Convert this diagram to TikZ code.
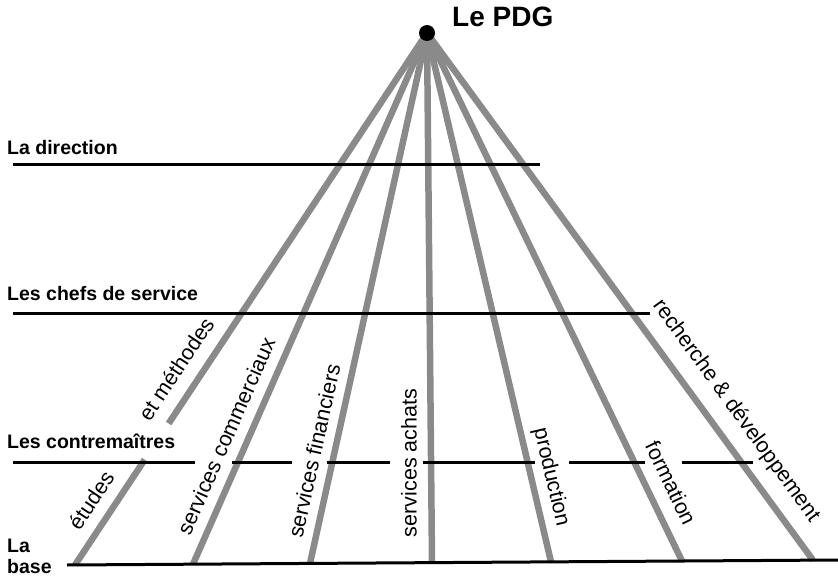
\documentclass[tikz,border=0pt]{standalone}
\usepackage{fontspec}
\setmainfont{Liberation Sans}
\usetikzlibrary{calc,backgrounds}
\definecolor{raygray}{HTML}{8A8A8A}
\begin{document}
\begin{tikzpicture}[x=1bp,y=-1bp,
  ray/.style={draw=raygray,line width=6.5bp},
  levelline/.style={draw=black,line width=3bp},
  lvllabel/.style={anchor=base west,inner sep=0,font=\bfseries\fontsize{19.5bp}{22bp}\selectfont},
  dept/.style={inner sep=0,font=\fontsize{21.5bp}{24bp}\selectfont}]
\useasboundingbox (0,0) rectangle (838,579);

% apex
\node[circle,fill=black,minimum size=16bp,inner sep=0] (apex) at (427,33) {};
\node[anchor=base west,inner sep=0,font=\bfseries\fontsize{28bp}{32bp}\selectfont] (pdg) at (452,27) {Le PDG};

% base points
\coordinate (b1) at (75,565);
\coordinate (b2) at (193,564.2);
\coordinate (b3) at (310,563.4);
\coordinate (b4) at (432,562.6);
\coordinate (b5) at (551,561.9);
\coordinate (b6) at (682,561);
\coordinate (b7) at (813,560.2);
\coordinate (gapA) at ($(apex.center)!0.734!(b1)$);
\coordinate (gapB) at ($(apex.center)!0.802!(b1)$);

\begin{scope}[on background layer]
  \draw[ray] (apex.center) -- (gapA);
  \draw[ray] (gapB) -- (b1);
  \foreach \i in {2,...,7} \draw[ray] (apex.center) -- (b\i);
\end{scope}

% level lines
\coordinate (d1) at (13,165); \coordinate (d2) at (540,165);
\coordinate (c1) at (13,313); \coordinate (c2) at (650,313);
\coordinate (s1) at (67,565); \coordinate (s2) at (838,560);
\draw[levelline] (d1) -- (d2);
\draw[levelline] (c1) -- (c2);
\draw[levelline] (s1) -- (s2);
\foreach \a/\b [count=\k] in {13/195,232/292,327/390,423/535,569/645,682/753}{
  \coordinate (m\k a) at (\a,462);
  \coordinate (m\k b) at (\b,462);
  \draw[levelline] (m\k a) -- (m\k b);
}

% level labels
\node[lvllabel] (ldir) at (7,155) {La direction};
\node[lvllabel] (lchef) at (7,300) {Les chefs de service};
\node[lvllabel] (lcontre) at (7,448) {Les contremaîtres};
\node[lvllabel] (lla) at (7,552) {La};
\node[lvllabel] (lbase) at (7,573) {base};

% department labels
\node[dept,rotate=56.4] (etudes) at (91,500) {études};
\node[dept,rotate=56.4] (meth) at (176,369) {et méthodes};
\node[dept,rotate=66.2] (comm) at (226,436) {services commerciaux};
\node[dept,rotate=77.5] (fin) at (314,451) {services financiers};
\node[dept,rotate=90] (ach) at (409,463) {services achats};
\node[dept,rotate=-76.8] (prod) at (551,477) {production};
\node[dept,rotate=-64.3] (form) at (671,483) {formation};
\node[dept,rotate=-54] (rd) at (736,411) {recherche \& développement};
\end{tikzpicture}
\end{document}
